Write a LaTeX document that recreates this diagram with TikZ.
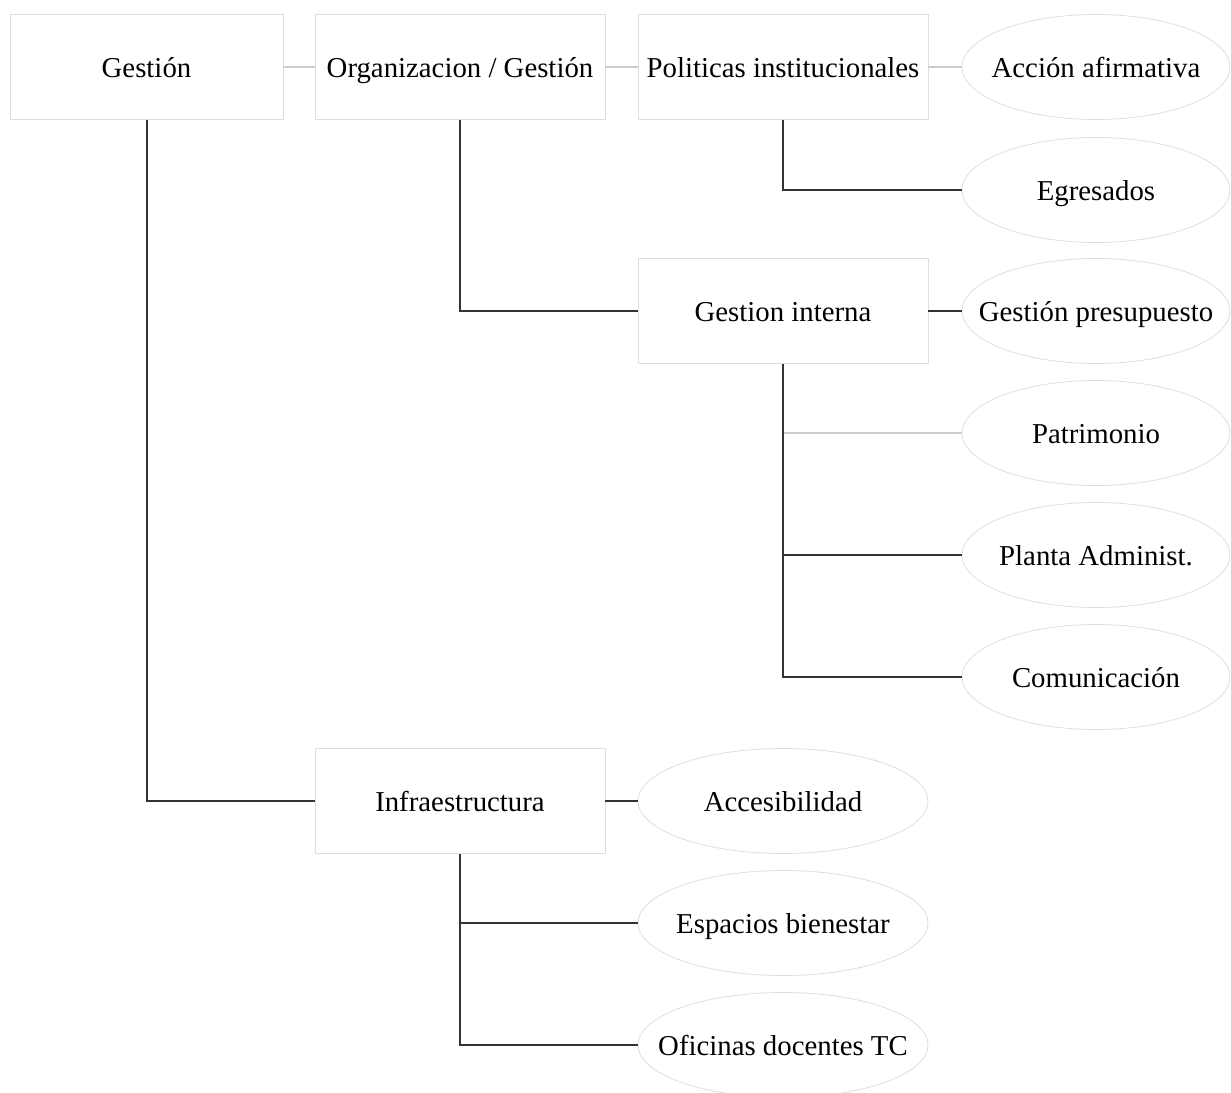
\documentclass[tikz,border=0pt]{standalone}
\usepackage{fontspec}
\setmainfont{Liberation Serif}
\usetikzlibrary{shapes.geometric}
\newcommand{\lbl}[1]{\makebox[0pt]{#1}}
\begin{document}
\begin{tikzpicture}[x=0.5pt,y=-0.5pt,
  font=\fontsize{14.4}{17}\selectfont,
  box/.style={draw=black!13, rectangle, minimum width=145pt, minimum height=52.5pt, inner sep=0pt, text height=11pt, text depth=1pt},
  leaf/.style={draw=black!13, ellipse, minimum width=134pt, minimum height=52.5pt, inner sep=0pt, text height=11pt, text depth=1pt},
  link/.style={draw=black!80, line width=1pt},
  soft/.style={draw=black!20, line width=1pt}]
\useasboundingbox (0,0) rectangle (1231,1092);
\node[box, minimum width=136.5pt] (g) at (146.5,67) {Gestión};
\node[box] (og) at (460,67) {Organizacion / Gestión};
\node[box] (pol) at (783,67) {Politicas institucionales};
\node[box] (gi) at (783,311) {Gestion interna};
\node[box] (inf) at (460,801) {Infraestructura};
\node[leaf] (acc) at (1096,67) {\lbl{Acción afirmativa}};
\node[leaf] (egr) at (1096,190) {\lbl{Egresados}};
\node[leaf] (gp) at (1096,311) {\lbl{Gestión presupuesto}};
\node[leaf] (pat) at (1096,433) {\lbl{Patrimonio}};
\node[leaf] (pla) at (1096,555) {\lbl{Planta Administ.}};
\node[leaf] (com) at (1096,677) {\lbl{Comunicación}};
\node[leaf, minimum width=145pt] (acce) at (783,801) {\lbl{Accesibilidad}};
\node[leaf, minimum width=145pt] (esp) at (783,923) {\lbl{Espacios bienestar}};
\node[leaf, minimum width=145pt] (ofi) at (783,1045) {\lbl{Oficinas docentes TC}};
\draw[soft] (g) -- (og);
\draw[soft] (og) -- (pol);
\draw[soft] (pol) -- (acc);
\draw[soft] (pat.west) -- (pat.west -| gi.south);
\draw[link] (pol.south) |- (egr.west);
\draw[link] (og.south) |- (gi.west);
\draw[link] (g.south) |- (inf.west);
\draw[link] (gi) -- (gp);
\draw[link] (gi.south) |- (pla.west);
\draw[link] (gi.south) |- (com.west);
\draw[link] (inf) -- (acce);
\draw[link] (inf.south) |- (esp.west);
\draw[link] (inf.south) |- (ofi.west);
\end{tikzpicture}
\end{document}
